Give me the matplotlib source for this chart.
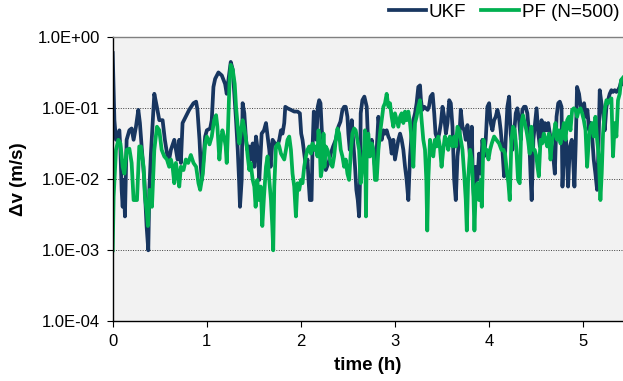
import matplotlib
matplotlib.use("Agg")
import matplotlib.pyplot as plt
from matplotlib.ticker import FixedLocator, FuncFormatter

# time (h) and speed error (m/s)
ukf_t = [
    0.0, 0.01, 0.018, 0.035, 0.071, 0.082, 0.095, 0.106, 0.117, 0.13,
    0.148, 0.177, 0.201, 0.222, 0.247, 0.272, 0.289, 0.31, 0.336, 0.36,
    0.378, 0.389, 0.406, 0.442, 0.469, 0.495, 0.53, 0.554, 0.593, 0.618,
    0.654, 0.689, 0.707, 0.724, 0.742, 0.776, 0.812, 0.858, 0.886, 0.9,
    0.922, 0.936, 0.947, 0.964, 0.982, 1.0, 1.035, 1.052, 1.07, 1.088,
    1.123, 1.159, 1.194, 1.211, 1.229, 1.254, 1.275, 1.289, 1.31, 1.328,
    1.342, 1.352, 1.37, 1.38, 1.398, 1.416, 1.43, 1.451, 1.465, 1.487,
    1.504, 1.522, 1.54, 1.557, 1.582, 1.607, 1.628, 1.642, 1.663, 1.677,
    1.698, 1.723, 1.748, 1.769, 1.787, 1.804, 1.822, 1.833, 1.857, 1.893,
    1.928, 1.963, 1.988, 2.002, 2.016, 2.034, 2.052, 2.069, 2.08, 2.094,
    2.112, 2.122, 2.136, 2.15, 2.164, 2.178, 2.193, 2.207, 2.221, 2.235,
    2.249, 2.263, 2.292, 2.316, 2.341, 2.369, 2.397, 2.419, 2.44, 2.458,
    2.475, 2.493, 2.503, 2.518, 2.539, 2.553, 2.574, 2.588, 2.603, 2.617,
    2.627, 2.634, 2.652, 2.673, 2.698, 2.709, 2.722, 2.737, 2.751, 2.768,
    2.786, 2.804, 2.822, 2.839, 2.857, 2.875, 2.892, 2.91, 2.928, 2.945,
    2.963, 2.981, 2.998, 3.016, 3.034, 3.052, 3.069, 3.087, 3.105, 3.122,
    3.14, 3.158, 3.175, 3.193, 3.211, 3.228, 3.246, 3.264, 3.274, 3.288,
    3.309, 3.327, 3.345, 3.359, 3.376, 3.398, 3.415, 3.429, 3.45, 3.468,
    3.486, 3.503, 3.521, 3.539, 3.556, 3.574, 3.591, 3.609, 3.627, 3.644,
    3.662, 3.68, 3.697, 3.715, 3.733, 3.75, 3.768, 3.786, 3.803, 3.814,
    3.824, 3.838, 3.856, 3.874, 3.891, 3.909, 3.927, 3.944, 3.962, 3.98,
    3.998, 4.015, 4.033, 4.051, 4.068, 4.086, 4.104, 4.121, 4.139, 4.157,
    4.174, 4.192, 4.21, 4.227, 4.245, 4.263, 4.281, 4.298, 4.316, 4.334,
    4.351, 4.369, 4.386, 4.404, 4.422, 4.44, 4.45, 4.468, 4.502, 4.52,
    4.537, 4.555, 4.573, 4.59, 4.608, 4.626, 4.643, 4.661, 4.679, 4.696,
    4.714, 4.732, 4.749, 4.767, 4.777, 4.791, 4.813, 4.827, 4.837, 4.855,
    4.876, 4.89, 4.904, 4.918, 4.932, 4.953, 4.971, 4.989, 5.007, 5.024,
    5.042, 5.06, 5.078, 5.095, 5.109, 5.127, 5.145, 5.159, 5.173, 5.191,
    5.208, 5.226, 5.244, 5.261, 5.279, 5.297, 5.314, 5.332, 5.35, 5.367,
    5.385, 5.403, 5.42,
]
ukf_v = [
    0.60, 0.18, 0.068, 0.036, 0.049, 0.026, 0.0071, 0.0041, 0.0098, 0.003,
    0.036, 0.049, 0.052, 0.036, 0.055, 0.095, 0.062, 0.026, 0.0098, 0.0022,
    0.001, 0.0071, 0.023, 0.16, 0.105, 0.068, 0.068, 0.036, 0.017, 0.026,
    0.036, 0.019, 0.036, 0.017, 0.062, 0.076, 0.095, 0.118, 0.124, 0.095,
    0.036, 0.015, 0.0098, 0.019, 0.040, 0.049, 0.052, 0.068, 0.20, 0.26,
    0.32, 0.29, 0.22, 0.16, 0.25, 0.45, 0.35, 0.18, 0.068, 0.026,
    0.0098, 0.0041, 0.0098, 0.118, 0.085, 0.036, 0.026, 0.029, 0.019, 0.032,
    0.015, 0.040, 0.026, 0.0098, 0.044, 0.049, 0.062, 0.044, 0.026, 0.015,
    0.036, 0.032, 0.029, 0.036, 0.049, 0.044, 0.062, 0.105, 0.10, 0.095,
    0.09, 0.09, 0.085, 0.044, 0.036, 0.023, 0.015, 0.019, 0.0098, 0.0051,
    0.0051, 0.026, 0.09, 0.062, 0.036, 0.105, 0.13, 0.118, 0.049, 0.036,
    0.019, 0.0135, 0.017, 0.023, 0.029, 0.036, 0.055, 0.065, 0.095, 0.105,
    0.105, 0.076, 0.044, 0.026, 0.068, 0.036, 0.015, 0.0071, 0.0051, 0.003,
    0.0098, 0.085, 0.13, 0.146, 0.105, 0.044, 0.021, 0.026, 0.036, 0.023,
    0.015, 0.026, 0.076, 0.044, 0.036, 0.049, 0.044, 0.049, 0.040, 0.036,
    0.023, 0.036, 0.019, 0.026, 0.036, 0.044, 0.036, 0.026, 0.015, 0.0098,
    0.0051, 0.021, 0.044, 0.068, 0.085, 0.118, 0.20, 0.21, 0.13, 0.095,
    0.105, 0.10, 0.095, 0.105, 0.146, 0.16, 0.085, 0.044, 0.036, 0.044,
    0.062, 0.105, 0.076, 0.044, 0.062, 0.13, 0.118, 0.055, 0.0098, 0.0051,
    0.021, 0.036, 0.095, 0.055, 0.049, 0.036, 0.058, 0.029, 0.015, 0.055,
    0.012, 0.0051, 0.015, 0.0098, 0.023, 0.012, 0.036, 0.021, 0.036, 0.105,
    0.118, 0.062, 0.049, 0.068, 0.076, 0.095, 0.076, 0.049, 0.026, 0.011,
    0.036, 0.105, 0.146, 0.044, 0.026, 0.044, 0.085, 0.10, 0.068, 0.036,
    0.095, 0.105, 0.105, 0.085, 0.044, 0.0098, 0.0051, 0.036, 0.10, 0.044,
    0.029, 0.068, 0.044, 0.062, 0.049, 0.062, 0.044, 0.032, 0.021, 0.012,
    0.076, 0.118, 0.124, 0.105, 0.0079, 0.023, 0.036, 0.015, 0.0079, 0.029,
    0.036, 0.019, 0.0079, 0.032, 0.20, 0.16, 0.105, 0.095, 0.118, 0.076,
    0.095, 0.049, 0.062, 0.036, 0.019, 0.012, 0.0071, 0.026, 0.18, 0.118,
    0.085, 0.049, 0.105, 0.13, 0.16, 0.18, 0.17, 0.18, 0.17, 0.18,
    0.20, 0.25, 0.22,
]

pf_t = [
    0.0, 0.01, 0.035, 0.06, 0.082, 0.106, 0.124, 0.148, 0.177, 0.201,
    0.222, 0.258, 0.282, 0.3, 0.328, 0.342, 0.364, 0.374, 0.392, 0.417,
    0.442, 0.47, 0.495, 0.52, 0.548, 0.576, 0.6, 0.618, 0.636, 0.654,
    0.671, 0.689, 0.707, 0.724, 0.752, 0.777, 0.802, 0.83, 0.858, 0.886,
    0.911, 0.929, 0.957, 0.982, 1.0, 1.028, 1.052, 1.077, 1.098, 1.112,
    1.133, 1.147, 1.165, 1.183, 1.2, 1.211, 1.222, 1.24, 1.254, 1.275,
    1.296, 1.31, 1.328, 1.345, 1.363, 1.38, 1.395, 1.416, 1.434, 1.451,
    1.465, 1.487, 1.504, 1.518, 1.536, 1.554, 1.572, 1.589, 1.607, 1.628,
    1.645, 1.663, 1.681, 1.695, 1.705, 1.716, 1.734, 1.758, 1.769, 1.787,
    1.804, 1.822, 1.84, 1.857, 1.875, 1.893, 1.91, 1.928, 1.946, 1.963,
    1.981, 1.999, 2.016, 2.034, 2.052, 2.069, 2.087, 2.105, 2.122, 2.14,
    2.157, 2.175, 2.186, 2.2, 2.21, 2.228, 2.239, 2.249, 2.263, 2.281,
    2.299, 2.316, 2.334, 2.352, 2.369, 2.387, 2.405, 2.422, 2.44, 2.458,
    2.475, 2.493, 2.511, 2.528, 2.546, 2.564, 2.581, 2.599, 2.617, 2.634,
    2.652, 2.669, 2.68, 2.69, 2.7, 2.715, 2.733, 2.751, 2.768, 2.786,
    2.804, 2.822, 2.839, 2.857, 2.875, 2.892, 2.91, 2.928, 2.945, 2.963,
    2.981, 2.998, 3.016, 3.034, 3.052, 3.069, 3.087, 3.105, 3.122, 3.14,
    3.158, 3.175, 3.193, 3.211, 3.228, 3.246, 3.264, 3.281, 3.299, 3.317,
    3.331, 3.341, 3.352, 3.37, 3.387, 3.405, 3.422, 3.44, 3.458, 3.475,
    3.493, 3.511, 3.528, 3.546, 3.564, 3.581, 3.609, 3.627, 3.644, 3.662,
    3.68, 3.697, 3.715, 3.733, 3.75, 3.761, 3.775, 3.796, 3.814, 3.832,
    3.842, 3.856, 3.874, 3.891, 3.909, 3.92, 3.938, 3.955, 3.973, 3.991,
    4.008, 4.026, 4.051, 4.075, 4.104, 4.129, 4.15, 4.167, 4.185, 4.203,
    4.217, 4.235, 4.252, 4.27, 4.288, 4.305, 4.323, 4.341, 4.358, 4.376,
    4.394, 4.411, 4.429, 4.447, 4.464, 4.482, 4.5, 4.512, 4.526, 4.544,
    4.562, 4.579, 4.597, 4.615, 4.633, 4.65, 4.668, 4.686, 4.703, 4.721,
    4.739, 4.756, 4.774, 4.792, 4.81, 4.827, 4.845, 4.862, 4.88, 4.898,
    4.916, 4.933, 4.951, 4.969, 4.986, 5.004, 5.022, 5.039, 5.057, 5.075,
    5.092, 5.11, 5.127, 5.145, 5.163, 5.18, 5.194, 5.208, 5.226, 5.244,
    5.261, 5.279, 5.297, 5.314, 5.332, 5.35, 5.367, 5.385, 5.4, 5.42,
]
pf_v = [
    0.001, 0.0057, 0.026, 0.036, 0.032, 0.015, 0.012, 0.026, 0.027, 0.017,
    0.0051, 0.0051, 0.029, 0.029, 0.015, 0.0057, 0.0033, 0.0022, 0.0071, 0.0041,
    0.026, 0.055, 0.049, 0.026, 0.021, 0.019, 0.015, 0.019, 0.015, 0.0088,
    0.017, 0.012, 0.0079, 0.015, 0.0135, 0.019, 0.017, 0.022, 0.017, 0.015,
    0.0088, 0.0071, 0.012, 0.032, 0.040, 0.031, 0.040, 0.068, 0.080, 0.055,
    0.019, 0.032, 0.049, 0.040, 0.029, 0.017, 0.040, 0.22, 0.41, 0.35,
    0.22, 0.105, 0.055, 0.032, 0.049, 0.068, 0.055, 0.036, 0.021, 0.0135,
    0.017, 0.0098, 0.0079, 0.0041, 0.0098, 0.0051, 0.0079, 0.0022, 0.0057, 0.015,
    0.021, 0.0098, 0.0051, 0.0022, 0.001, 0.0079, 0.029, 0.032, 0.029, 0.023,
    0.021, 0.019, 0.026, 0.036, 0.040, 0.026, 0.012, 0.0079, 0.003, 0.0088,
    0.0071, 0.0098, 0.0088, 0.015, 0.021, 0.026, 0.029, 0.023, 0.032, 0.026,
    0.029, 0.021, 0.049, 0.026, 0.011, 0.015, 0.044, 0.015, 0.029, 0.026,
    0.021, 0.017, 0.015, 0.021, 0.036, 0.052, 0.044, 0.026, 0.021, 0.015,
    0.019, 0.012, 0.0098, 0.023, 0.044, 0.052, 0.049, 0.036, 0.026, 0.0088,
    0.015, 0.026, 0.049, 0.003, 0.036, 0.044, 0.021, 0.032, 0.026, 0.0098,
    0.0098, 0.026, 0.044, 0.068, 0.105, 0.118, 0.16, 0.105, 0.118, 0.076,
    0.055, 0.085, 0.068, 0.055, 0.076, 0.085, 0.062, 0.09, 0.068, 0.09,
    0.062, 0.036, 0.015, 0.062, 0.076, 0.105, 0.13, 0.068, 0.036, 0.026,
    0.0098, 0.0019, 0.0098, 0.036, 0.026, 0.021, 0.036, 0.029, 0.040, 0.029,
    0.015, 0.026, 0.040, 0.036, 0.026, 0.040, 0.029, 0.040, 0.029, 0.055,
    0.049, 0.036, 0.026, 0.012, 0.0051, 0.0019, 0.0098, 0.026, 0.019, 0.0057,
    0.0019, 0.0071, 0.0088, 0.0051, 0.0098, 0.0041, 0.036, 0.026, 0.026, 0.019,
    0.026, 0.032, 0.040, 0.036, 0.032, 0.026, 0.026, 0.023, 0.0135, 0.0088,
    0.0051, 0.036, 0.055, 0.049, 0.026, 0.0098, 0.0088, 0.062, 0.080, 0.062,
    0.049, 0.036, 0.023, 0.055, 0.026, 0.026, 0.021, 0.015, 0.011, 0.036,
    0.032, 0.044, 0.036, 0.029, 0.044, 0.019, 0.036, 0.044, 0.062, 0.036,
    0.049, 0.032, 0.044, 0.062, 0.036, 0.068, 0.076, 0.049, 0.095, 0.10,
    0.095, 0.076, 0.095, 0.10, 0.085, 0.068, 0.049, 0.015, 0.036, 0.055,
    0.062, 0.040, 0.076, 0.036, 0.021, 0.0051, 0.012, 0.044, 0.095, 0.13,
    0.118, 0.13, 0.138, 0.021, 0.062, 0.040, 0.13, 0.16, 0.25, 0.27,
]

y_ticks = [1e-4, 1e-3, 1e-2, 1e-1, 1e0]
x_ticks = [0, 1, 2, 3, 4, 5]

plt.rcParams["font.family"] = ["Liberation Sans", "DejaVu Sans"]

fig = plt.figure(figsize=(6.23, 3.81), dpi=100)
ax = fig.add_axes([0.1809, 0.1567, 0.8191, 0.7454])
ax.set_facecolor("#f2f2f2")

ax.plot(ukf_t, ukf_v, color="#183660", linewidth=2.7, solid_joinstyle="round", label="UKF")
ax.plot(pf_t, pf_v, color="#00b050", linewidth=2.7, solid_joinstyle="round", label="PF (N=500)")

ax.set_yscale("log")
ax.set_ylim(1e-4, 1e0)
ax.set_xlim(0, 5.42)
ax.yaxis.set_major_locator(FixedLocator(y_ticks))
ax.yaxis.set_minor_locator(FixedLocator([]))
ax.yaxis.set_major_formatter(FuncFormatter(lambda v, _: f"{v:.1E}"))
ax.set_xticks(x_ticks)

ax.grid(axis="y", which="major", color="#404040", linestyle=(0, (1, 1.5)), linewidth=0.7)
ax.set_axisbelow(True)

for side in ("left", "bottom"):
    ax.spines[side].set_color("black")
    ax.spines[side].set_linewidth(1.0)
ax.spines["right"].set_visible(False)
ax.spines["top"].set_color("#808080")
ax.spines["top"].set_linewidth(1.0)

ax.tick_params(axis="both", direction="out", length=4, width=0.8, labelsize=12, colors="black")
ax.tick_params(axis="y", pad=5)
ax.tick_params(axis="x", pad=5)

ax.set_xlabel("time (h)", fontsize=13.5, fontweight="bold", labelpad=6)
ax.set_ylabel("Δv (m/s)", fontsize=13.5, fontweight="bold", labelpad=8)

fig.legend(
    loc="upper right",
    bbox_to_anchor=(1.0, 1.0),
    ncol=2,
    frameon=False,
    fontsize=13.5,
    handlelength=2.0,
    handletextpad=0.15,
    columnspacing=0.8,
    borderpad=0.2,
    borderaxespad=0.0,
)

fig.savefig("out.png", dpi=100)
